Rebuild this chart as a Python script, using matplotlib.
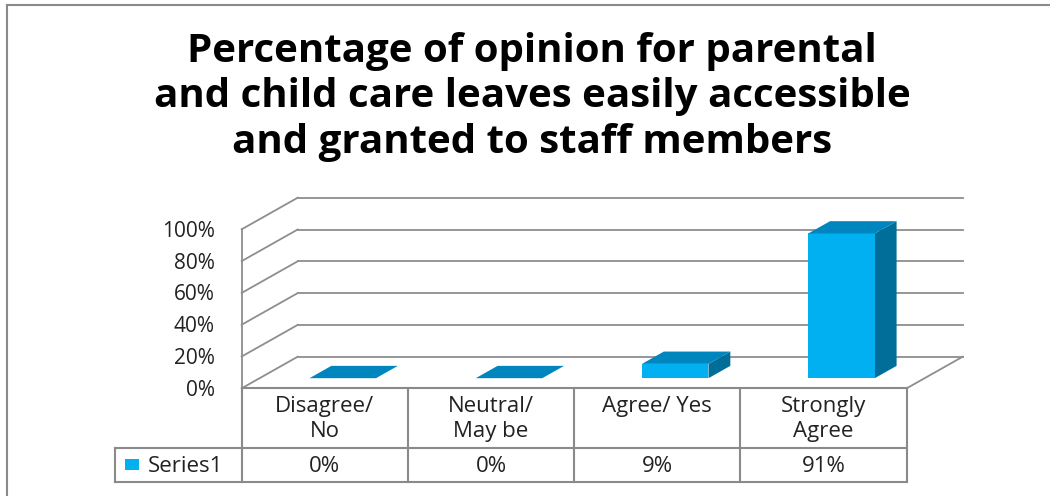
import matplotlib
matplotlib.use("Agg")
import matplotlib.pyplot as plt
from matplotlib.patches import Polygon, Rectangle

title = "Percentage of opinion for parental\nand child care leaves easily accessible\nand granted to staff members"
categories = ["Disagree/\nNo", "Neutral/\nMay be", "Agree/ Yes", "Strongly\nAgree"]
values = [0, 0, 9, 91]
series_name = "Series1"
ticks = [0, 20, 40, 60, 80, 100]

# oblique projection of the 3d box onto the page (pixels)
X0, Y0 = 241.7, 388.3      # front-left corner of the floor
CW = 166.25                # width of one category
VS = 1.59                  # pixels per percent
DX, DY = 56.0, 31.6        # full depth offset

front = "#00B0F0"
top = "#0086BE"
side = "#006E98"
grid = "#8e8e8e"
font = "Open Sans"


def proj(x, v, d):
    return X0 + x * CW + d * DX, Y0 - v * VS - d * DY


fig = plt.figure(figsize=(10.5, 4.96), dpi=100)
ax = fig.add_axes([0, 0, 1, 1])
ax.set_xlim(0, 1050)
ax.set_ylim(496, 0)
ax.axis("off")

# outer chart border
ax.plot([7, 1050], [5, 5], color="#8a8a8a", lw=1.5)
ax.plot([7, 7], [5, 496], color="#8a8a8a", lw=1.5)

ax.text(532, 97, title, ha="center", va="center", fontsize=29,
        fontweight="bold", family=font, linespacing=1.22)

# back wall gridlines and side wall slants
n = len(categories)
for t in ticks:
    bx0, by0 = proj(0, t, 1)
    bx1, by1 = proj(n, t, 1)
    ax.plot([bx0, bx1], [by0, by1], color=grid, lw=1.3)
    fx, fy = proj(0, t, 0)
    ax.plot([fx, bx0], [fy, by0], color=grid, lw=1.3)
    ax.text(fx - 27, fy + 2, f"{t}%", ha="right", va="center",
            fontsize=15, family=font, color="#222222")

fx0, fy0 = proj(0, 0, 0)
fx1, fy1 = proj(0, max(ticks), 0)
ax.plot([fx0, fx1], [fy0, fy1], color=grid, lw=1.3)
rx0, ry0 = proj(n, 0, 0)
rx1, ry1 = proj(n, 0, 1)
ax.plot([rx0, rx1], [ry0, ry1], color=grid, lw=1.3)

# bars
d0, d1 = 0.32, 0.71
for i, v in enumerate(values):
    x0, x1 = i + 0.3, i + 0.7
    if v > 0:
        ax.add_patch(Polygon([proj(x1, 0, d0), proj(x1, 0, d1), proj(x1, v, d1),
                              proj(x1, v, d0)], closed=True, fc=side, ec="none", zorder=3))
        ax.add_patch(Polygon([proj(x0, 0, d0), proj(x1, 0, d0), proj(x1, v, d0),
                              proj(x0, v, d0)], closed=True, fc=front, ec="none", zorder=4))
    ax.add_patch(Polygon([proj(x0, v, d0), proj(x1, v, d0), proj(x1, v, d1),
                          proj(x0, v, d1)], closed=True, fc=top, ec="none", zorder=4))

# data table below the floor
row1, row2 = 448.3, 481.7
left = 115
tcol = "#8a8a8a"
ax.plot([X0, X0 + n * CW], [Y0, Y0], color=tcol, lw=1.5)
ax.plot([left, X0 + n * CW], [row1, row1], color=tcol, lw=1.5)
ax.plot([left, X0 + n * CW], [row2, row2], color=tcol, lw=1.5)
ax.plot([left, left], [row1, row2], color=tcol, lw=1.5)
for k in range(n + 1):
    xk = X0 + k * CW
    ax.plot([xk, xk], [Y0, row2], color=tcol, lw=1.5)

for i, (c, v) in enumerate(zip(categories, values)):
    cx = X0 + (i + 0.5) * CW
    ax.text(cx, 396, c, ha="center", va="top", fontsize=16, family=font,
            color="#222222", linespacing=1.25)
    ax.text(cx, (row1 + row2) / 2 + 1, f"{v}%", ha="center", va="center",
            fontsize=16, family=font, color="#222222")

ax.add_patch(Rectangle((125, 459), 14, 11, fc=front, ec="none"))
ax.text(148, (row1 + row2) / 2 + 1, series_name, ha="left", va="center",
        fontsize=16, family=font, color="#222222")

fig.savefig("out.png", dpi=100)
